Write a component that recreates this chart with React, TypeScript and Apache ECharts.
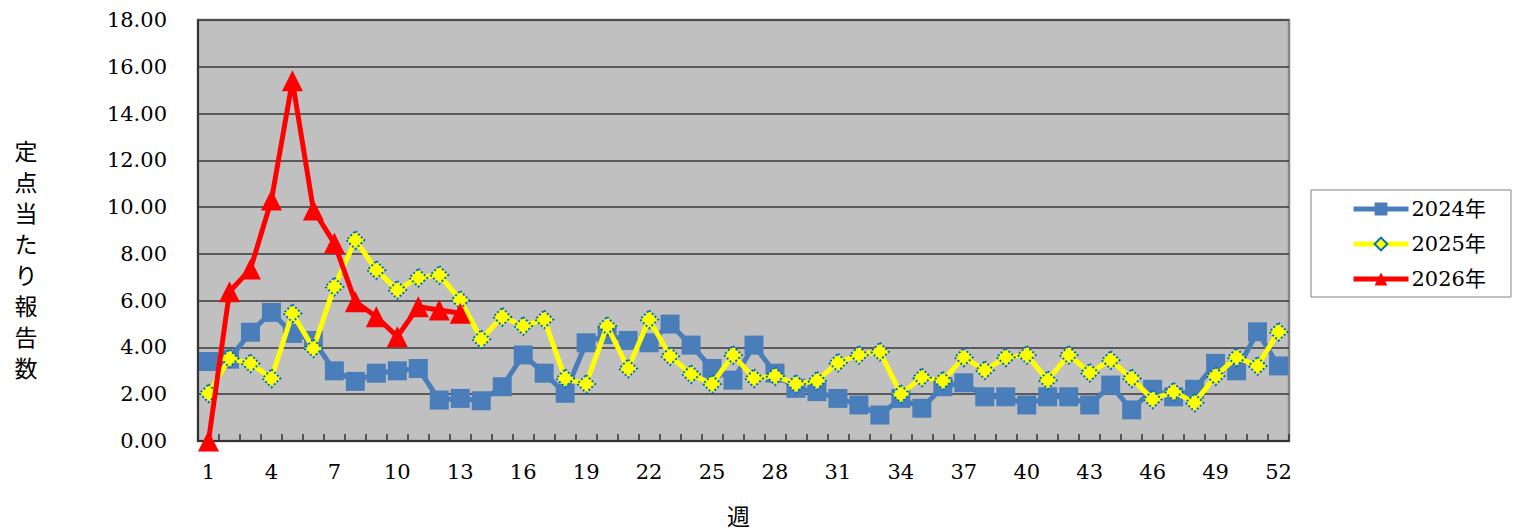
import React, { useEffect, useRef } from "react";
import * as echarts from "echarts";

const weeks: string[] = Array.from({ length: 52 }, (_, i) => String(i + 1));

const y2024: number[] = [
  3.4, 3.5, 4.65, 5.5, 4.6, 4.3, 3.0, 2.55, 2.9, 3.0,
  3.1, 1.75, 1.82, 1.72, 2.32, 3.68, 2.9, 2.04, 4.2, 4.55,
  4.3, 4.2, 5.0, 4.1, 3.1, 2.6, 4.1, 2.9, 2.25, 2.11,
  1.82, 1.54, 1.11, 1.82, 1.4, 2.32, 2.49, 1.89, 1.89, 1.54,
  1.89, 1.89, 1.54, 2.39, 1.33, 2.21, 1.89, 2.21, 3.32, 3.0,
  4.67, 3.21,
];

const y2025: number[] = [
  2.04, 3.53, 3.32, 2.68, 5.46, 3.96, 6.6, 8.59, 7.31, 6.46,
  6.98, 7.1, 6.03, 4.35, 5.31, 4.92, 5.2, 2.68, 2.44, 4.92,
  3.1, 5.2, 3.63, 2.86, 2.44, 3.68, 2.68, 2.78, 2.44, 2.58,
  3.35, 3.68, 3.82, 2.01, 2.72, 2.58, 3.58, 3.03, 3.58, 3.68,
  2.6, 3.68, 2.92, 3.46, 2.68, 1.78, 2.11, 1.64, 2.78, 3.58,
  3.21, 4.67,
];

const y2026: number[] = [
  0.0, 6.38, 7.35, 10.3, 15.4, 9.88, 8.45, 5.95, 5.31, 4.46,
  5.74, 5.6, 5.46,
];

const yTicks = { min: 0, max: 18, interval: 2 };
const seriesNames = ["2024年", "2025年", "2026年"];
const yName = "定点当たり報告数";
const xName = "週";

const SERIF = "'DejaVu Serif', 'Noto Sans CJK JP', serif";

export default function App() {
  const ref = useRef<HTMLDivElement>(null);

  useEffect(() => {
    if (!ref.current) return;
    const chart = echarts.init(ref.current, undefined, { renderer: "svg" });
    const yNameChars = yName.split("").map((ch, i) => ({
      type: "text",
      x: 26,
      y: 150 + i * 31,
      style: {
        text: ch,
        font: "23px 'Noto Sans CJK JP'",
        lineHeight: 25,
        fill: "#000000",
        align: "center",
        verticalAlign: "middle",
      },
    }));
    const option: any = {
      animation: false,
      backgroundColor: "#ffffff",
      grid: {
        left: 198,
        right: 226,
        top: 20,
        bottom: 90,
        show: true,
        backgroundColor: "#C0C0C0",
        borderColor: "#868686",
        borderWidth: 2.5,
      },
      legend: {
        orient: "vertical",
        left: 1311,
        top: 190,
        padding: [7, 25, 6, 40],
        itemWidth: 55,
        itemHeight: 16,
        itemGap: 11,
        backgroundColor: "#ffffff",
        borderColor: "#808080",
        borderWidth: 1,
        borderRadius: 0,
        data: seriesNames,
        lineStyle: { width: 5 },
        textStyle: {
          fontFamily: SERIF,
          fontSize: 21,
          lineHeight: 24,
          color: "#000000",
          padding: [0, 0, 0, -2],
        },
      },
      graphic: [
        ...yNameChars,
        {
          type: "text",
          left: 727,
          top: 503,
          style: {
            text: xName,
            font: "23px 'Noto Sans CJK JP'",
            fill: "#000000",
          },
        },
      ],
      xAxis: {
        type: "category",
        data: weeks,
        boundaryGap: true,
        axisLine: { show: true, lineStyle: { color: "#333333", width: 2 } },
        axisTick: {
          show: true,
          inside: true,
          length: 7,
          interval: 0,
          lineStyle: { color: "#333333", width: 1.5 },
        },
        axisLabel: {
          interval: 2,
          margin: 20,
          fontFamily: SERIF,
          fontSize: 21,
          color: "#000000",
        },
        splitLine: { show: false },
      },
      yAxis: {
        type: "value",
        min: yTicks.min,
        max: yTicks.max,
        interval: yTicks.interval,
        axisLine: { show: true, lineStyle: { color: "#333333", width: 2 } },
        axisTick: { show: false },
        axisLabel: {
          margin: 31,
          fontFamily: SERIF,
          fontSize: 21,
          color: "#000000",
          formatter: (v: number) => v.toFixed(2),
        },
        splitLine: { show: true, lineStyle: { color: "#3a3a3a", width: 1.5 } },
      },
      series: [
        {
          name: seriesNames[0],
          type: "line",
          data: y2024,
          symbol: "rect",
          symbolSize: 19,
          showAllSymbol: true,
          itemStyle: { color: "#4A7EBB" },
          lineStyle: { color: "#4A7EBB", width: 5 },
          z: 2,
        },
        {
          name: seriesNames[1],
          type: "line",
          data: y2025,
          symbol: "diamond",
          symbolSize: 18,
          showAllSymbol: true,
          itemStyle: {
            color: "#FFFF00",
            borderColor: "#0070C0",
            borderWidth: 2,
            borderType: "dotted",
          },
          lineStyle: { color: "#FFFF00", width: 5 },
          z: 3,
        },
        {
          name: seriesNames[2],
          type: "line",
          data: y2026,
          symbol: "triangle",
          symbolSize: 21,
          showAllSymbol: true,
          itemStyle: { color: "#FF0000" },
          lineStyle: { color: "#FF0000", width: 5 },
          z: 4,
        },
      ],
    };
    chart.setOption(option);
    return () => chart.dispose();
  }, []);

  return (
    <div
      ref={ref}
      style={{ position: "fixed", left: 0, top: 0, width: 1515, height: 531 }}
    />
  );
}
